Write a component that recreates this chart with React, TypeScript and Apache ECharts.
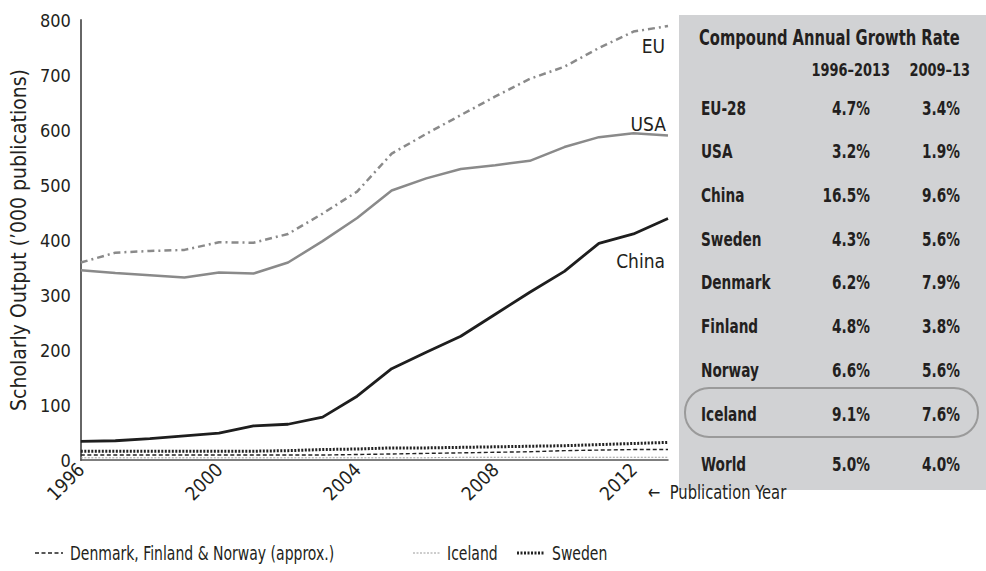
import React, { useEffect, useRef } from "react";
import * as echarts from "echarts";

const years = ["1996","1997","1998","1999","2000","2001","2002","2003","2004","2005","2006","2007","2008","2009","2010","2011","2012","2013"];
const euValues = [359,377,380,382,396,395,411,448,488,557,593,627,661,693,715,749,779,789];
const usaValues = [345,340,336,332,341,339,359,398,440,490,512,529,536,544,569,587,594,590];
const chinaValues = [34,35,39,44,49,62,65,78,116,166,196,225,265,305,343,394,411,439];
const swedenValues = [16,16,16,16,16,16,17,19,20,22,22,23,24,25,26,28,30,32];
const nordicValues = [9,9,9,9,9,9,9,9,10,11,12,13,14,15,17,18,19,19];
const icelandValues = [4,4,4,4,4,4,4,4,4,4,4,5,5,5,5,5,5,5];

const yTicks = [0, 100, 200, 300, 400, 500, 600, 700, 800];

const tableTitle = "Compound Annual Growth Rate";
const tableHeaders = ["1996–2013", "2009–13"];
const tableRows = ["EU-28", "USA", "China", "Sweden", "Denmark", "Finland", "Norway", "Iceland", "World"];
const cagrLong = ["4.7%", "3.2%", "16.5%", "4.3%", "6.2%", "4.8%", "6.6%", "9.1%", "5.0%"];
const cagrShort = ["3.4%", "1.9%", "9.6%", "5.6%", "7.9%", "3.8%", "5.6%", "7.6%", "4.0%"];

const legendItems = ["Denmark, Finland & Norway (approx.)", "Iceland", "Sweden"];

const FONT = "'DejaVu Sans Condensed', 'Liberation Sans Narrow', sans-serif";
const TXT = "#231f20";
const GREY = "#8a8a8a";
const SX = 0.8;

export default function App() {
  const ref = useRef<HTMLDivElement>(null);
  useEffect(() => {
    document.body.style.margin = "0";
    if (!ref.current) return;
    const chart = echarts.init(ref.current, undefined, { renderer: "svg" });

    const endLabel = (name: string, values: number[], pos: number[], vAlign: string) => ({
      symbol: "circle",
      symbolSize: 0,
      silent: true,
      label: {
        show: true,
        formatter: name,
        position: pos,
        align: "right",
        verticalAlign: vAlign,
        color: TXT,
        fontFamily: FONT,
        fontSize: 19,
      },
      data: [{ coord: [years[years.length - 1], values[values.length - 1]] }],
    });

    const txt = (text: string, x: number, y: number, font: string, align = "left", sx = SX) => ({
      type: "text",
      x, y,
      scaleX: sx,
      style: { text, font, fill: TXT, align, verticalAlign: "middle" },
    });

    const graphics: any[] = [];
    graphics.push({
      type: "rect",
      shape: { x: 679, y: 15, width: 307, height: 475 },
      style: { fill: "#d1d2d4" },
      silent: true,
    });
    graphics.push(txt(tableTitle, 699, 38, `bold 21px ${FONT}`, "left", 0.78));
    graphics.push(txt(tableHeaders[0], 890, 70, `bold 18px ${FONT}`, "right"));
    graphics.push(txt(tableHeaders[1], 970, 70, `bold 18px ${FONT}`, "right"));
    tableRows.forEach((name, i) => {
      const y = i < 8 ? 108 + i * 43.7 : 464;
      graphics.push(txt(name, 701, y, `bold 19px ${FONT}`));
      graphics.push(txt(cagrLong[i], 870, y, `bold 19px ${FONT}`, "right"));
      graphics.push(txt(cagrShort[i], 960, y, `bold 19px ${FONT}`, "right"));
    });
    graphics.push({
      type: "rect",
      shape: { x: 685, y: 388, width: 293, height: 49, r: 24 },
      style: { fill: "none", stroke: "#9a9a9a", lineWidth: 2 },
      silent: true,
    });
    graphics.push(txt("←  Publication Year", 648, 492, `20px ${FONT}`, "left", 0.82));
    const legendStyles = [
      { x: 35, tx: 70, stroke: "#222", lineWidth: 1.3, lineDash: [4, 2.5] },
      { x: 413, tx: 447, stroke: "#9a9a9a", lineWidth: 1, lineDash: [2, 1.5] },
      { x: 517, tx: 552, stroke: "#222", lineWidth: 3, lineDash: [2, 1.5] },
    ];
    legendItems.forEach((name, i) => {
      const s = legendStyles[i];
      graphics.push({
        type: "line",
        shape: { x1: s.x, y1: 553, x2: s.x + 28, y2: 553 },
        style: { stroke: s.stroke, lineWidth: s.lineWidth, lineDash: s.lineDash },
      });
      graphics.push(txt(name, s.tx, 553, `19px ${FONT}`, "left", 0.82));
    });

    const option: any = {
      animation: false,
      backgroundColor: "#ffffff",
      grid: { left: 73, right: 318, top: 20, bottom: 111 },
      xAxis: {
        type: "category",
        data: years,
        boundaryGap: false,
        axisLine: { show: true, lineStyle: { color: "#555", width: 1.5 } },
        axisTick: { show: false },
        axisLabel: {
          interval: 3,
          rotate: 45,
          color: TXT,
          fontFamily: FONT,
          fontSize: 19,
          margin: 6,
        },
        splitLine: { show: false },
      },
      yAxis: {
        type: "value",
        min: yTicks[0],
        max: yTicks[yTicks.length - 1],
        interval: 100,
        name: "Scholarly Output (’000 publications)",
        nameLocation: "middle",
        nameGap: 51,
        nameTextStyle: { color: TXT, fontFamily: FONT, fontSize: 21 },
        axisLine: { show: true, lineStyle: { color: "#666", width: 2 } },
        axisTick: { show: false },
        axisLabel: { color: TXT, fontFamily: FONT, fontSize: 18, margin: 10 },
        splitLine: { show: false },
      },
      series: [
        {
          name: "Iceland",
          type: "line",
          data: icelandValues,
          symbol: "none",
          lineStyle: { color: "#9a9a9a", width: 1, type: [2, 1.5] },
        },
        {
          name: "Denmark, Finland & Norway (approx.)",
          type: "line",
          data: nordicValues,
          symbol: "none",
          lineStyle: { color: "#222", width: 1.4, type: [4, 2.5] },
        },
        {
          name: "Sweden",
          type: "line",
          data: swedenValues,
          symbol: "none",
          lineStyle: { color: "#222", width: 3, type: [2, 1.5] },
        },
        {
          name: "China",
          type: "line",
          data: chinaValues,
          symbol: "none",
          lineStyle: { color: "#1e1e1e", width: 2.8 },
          markPoint: endLabel("China", chinaValues, [-3, 33], "top"),
        },
        {
          name: "USA",
          type: "line",
          data: usaValues,
          symbol: "none",
          lineStyle: { color: GREY, width: 2.5 },
          markPoint: endLabel("USA", usaValues, [-2, -2], "bottom"),
        },
        {
          name: "EU",
          type: "line",
          data: euValues,
          symbol: "none",
          lineStyle: { color: GREY, width: 2.5, type: [7, 4, 2, 4] },
          markPoint: endLabel("EU", euValues, [-3, 10], "top"),
        },
      ],
      graphic: graphics,
    };
    chart.setOption(option);
    return () => chart.dispose();
  }, []);
  return <div ref={ref} style={{ position: "fixed", left: 0, top: 0, width: 986, height: 571 }} />;
}
